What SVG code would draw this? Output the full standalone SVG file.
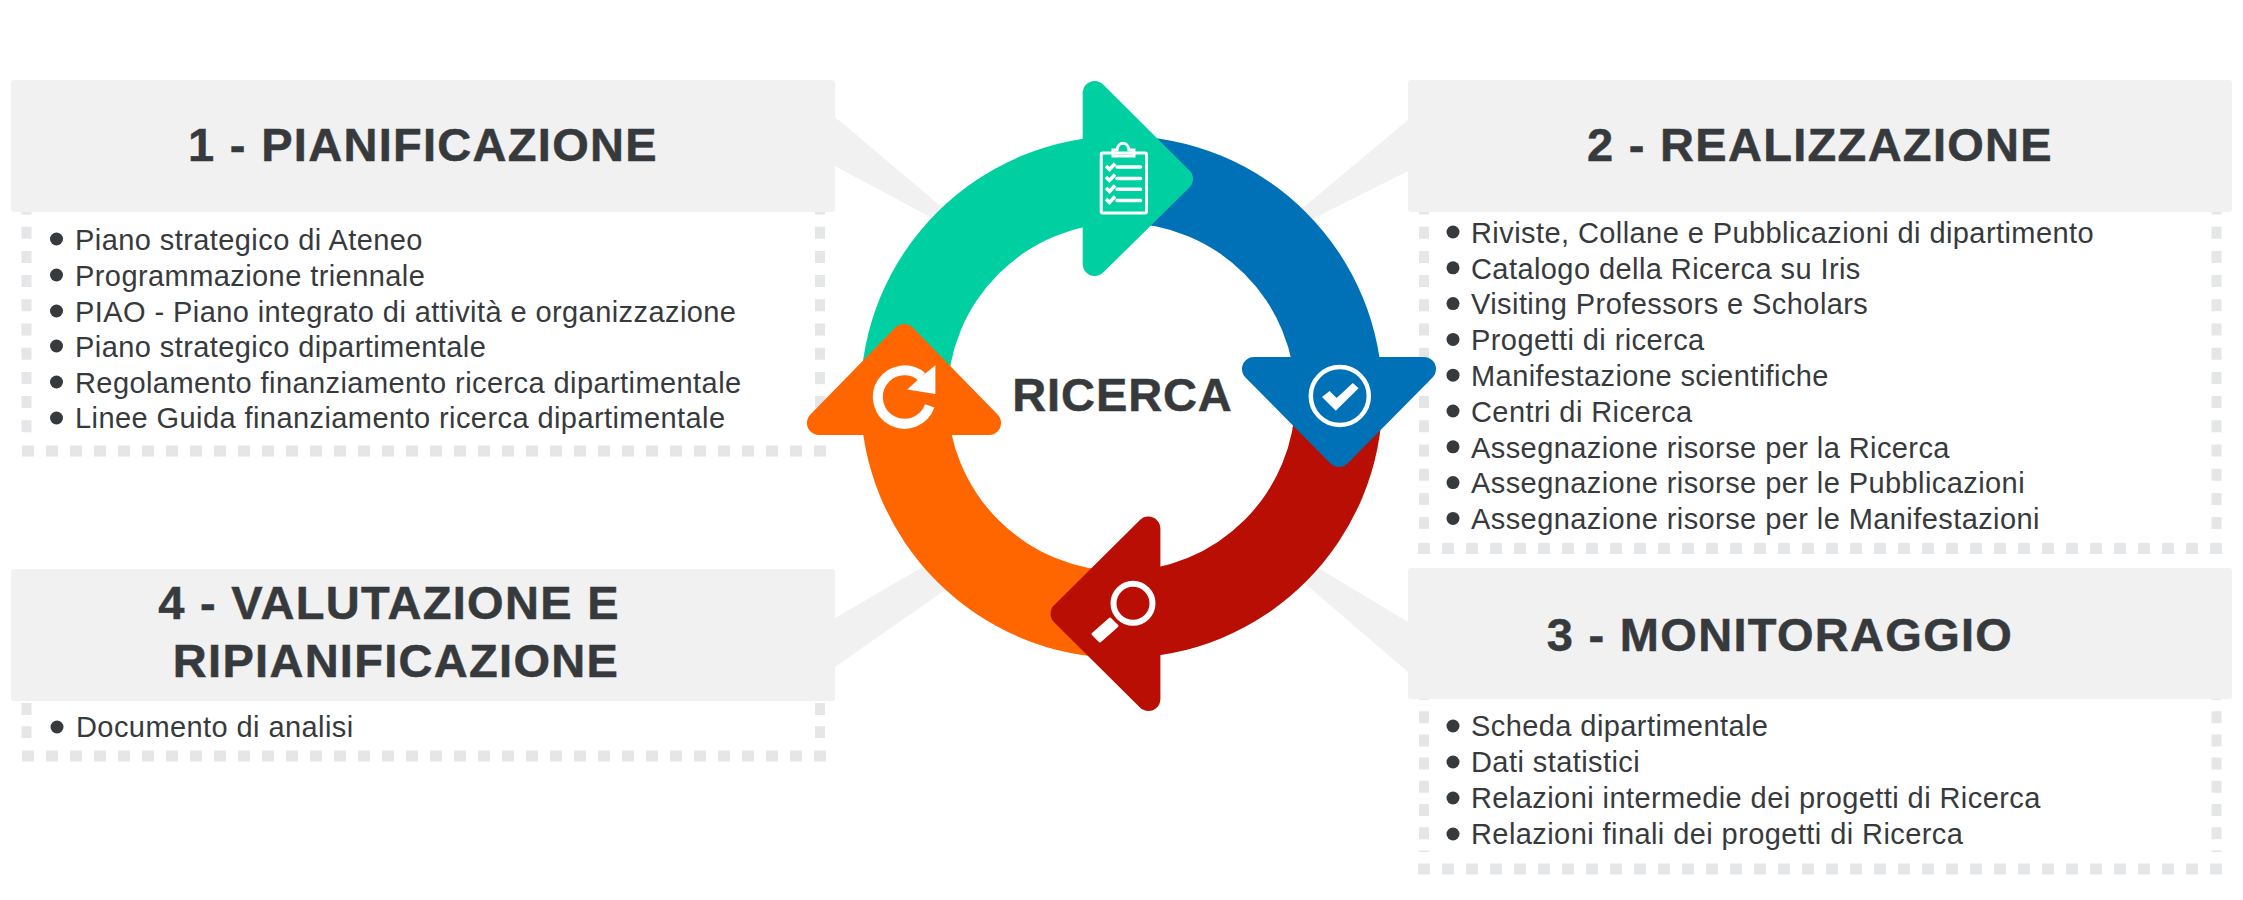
<svg xmlns="http://www.w3.org/2000/svg" width="2243" height="900" viewBox="0 0 2243 900">
<style>
text{font-family:"Liberation Sans",Arial,sans-serif;fill:#373a3d}
.t{font-size:47px;font-weight:700;text-anchor:middle;letter-spacing:1.3px;stroke:#373a3d;stroke-width:.5px}
.i{font-size:29px;letter-spacing:.42px}
.p{fill:#f1f1f1}
.d{fill:none;stroke:#e5e6e8;stroke-width:10;stroke-dasharray:12 12.2}
.h{fill:none;stroke:#e5e6e8;stroke-width:11;stroke-dasharray:12 12}
.b{fill:#373a3d}
.w{fill:#fff}
.o{fill:none;stroke:#fff}
</style>
<rect width="2243" height="900" fill="#fff"/>
<g id="connectors">
<polygon class="p" points="835,117 835,166 945,225 950,214"/>
<polygon class="p" points="1408,120 1408,171 1298,226 1293,216"/>
<polygon class="p" points="835,618 835,667 945,590 935,560"/>
<polygon class="p" points="1408,622 1408,672 1295,575 1305,560"/>
</g>
<g id="panel-1">
<path class="d" d="M26.5 202.5V434M820 202.5V434"/>
<path class="h" d="M22 451H826"/>
<rect class="p" x="11" y="80" width="824" height="132" rx="3"/>
<text class="t" x="423" y="160.7">1 - PIANIFICAZIONE</text>
<g class="b"><circle cx="56.5" cy="239" r="6.5"/><circle cx="56.5" cy="275" r="6.5"/><circle cx="56.5" cy="311" r="6.5"/><circle cx="56.5" cy="346" r="6.5"/><circle cx="56.5" cy="382" r="6.5"/><circle cx="56.5" cy="418" r="6.5"/></g>
<text class="i" x="75" y="250">Piano strategico di Ateneo</text>
<text class="i" x="75" y="286">Programmazione triennale</text>
<text class="i" x="75" y="321.7">PIAO - Piano integrato di attività e organizzazione</text>
<text class="i" x="75" y="356.7">Piano strategico dipartimentale</text>
<text class="i" x="75" y="392.7">Regolamento finanziamento ricerca dipartimentale</text>
<text class="i" x="75" y="428.3">Linee Guida finanziamento ricerca dipartimentale</text>
</g>
<g id="panel-2">
<path class="d" d="M1424 202.5V531M2216.5 202.5V531"/>
<path class="h" d="M1418 548.5H2222"/>
<rect class="p" x="1408" y="80" width="824" height="132" rx="3"/>
<text class="t" x="1820" y="161">2 - REALIZZAZIONE</text>
<g class="b"><circle cx="1453" cy="232" r="6.5"/><circle cx="1453" cy="267.8" r="6.5"/><circle cx="1453" cy="303.6" r="6.5"/><circle cx="1453" cy="339.4" r="6.5"/><circle cx="1453" cy="375.2" r="6.5"/><circle cx="1453" cy="411" r="6.5"/><circle cx="1453" cy="446.8" r="6.5"/><circle cx="1453" cy="482.6" r="6.5"/><circle cx="1453" cy="518.4" r="6.5"/></g>
<text class="i" x="1471" y="242.7">Riviste, Collane e Pubblicazioni di dipartimento</text>
<text class="i" x="1471" y="278.5">Catalogo della Ricerca su Iris</text>
<text class="i" x="1471" y="314.3">Visiting Professors e Scholars</text>
<text class="i" x="1471" y="350.1">Progetti di ricerca</text>
<text class="i" x="1471" y="385.9">Manifestazione scientifiche</text>
<text class="i" x="1471" y="421.7">Centri di Ricerca</text>
<text class="i" x="1471" y="457.5">Assegnazione risorse per la Ricerca</text>
<text class="i" x="1471" y="493.3">Assegnazione risorse per le Pubblicazioni</text>
<text class="i" x="1471" y="529.1">Assegnazione risorse per le Manifestazioni</text>
</g>
<g id="panel-3">
<path class="d" style="stroke-dasharray:12 11.2" d="M1424 688V852M2216.5 688V852"/>
<path class="h" d="M1418 869H2222"/>
<rect class="p" x="1408" y="568" width="824" height="131" rx="3"/>
<text class="t" x="1780" y="651">3 - MONITORAGGIO</text>
<g class="b"><circle cx="1453" cy="726" r="6.5"/><circle cx="1453" cy="762" r="6.5"/><circle cx="1453" cy="798" r="6.5"/><circle cx="1453" cy="834" r="6.5"/></g>
<text class="i" x="1471" y="736">Scheda dipartimentale</text>
<text class="i" x="1471" y="772">Dati statistici</text>
<text class="i" x="1471" y="808">Relazioni intermedie dei progetti di Ricerca</text>
<text class="i" x="1471" y="844">Relazioni finali dei progetti di Ricerca</text>
</g>
<g id="panel-4">
<path class="d" style="stroke-dasharray:12 11.2" d="M26.5 703V738M820 703V738"/>
<path class="h" d="M22 756H826"/>
<rect class="p" x="11" y="569" width="824" height="132" rx="3"/>
<text class="t" x="389" y="618.7">4 - VALUTAZIONE E</text>
<text class="t" x="396" y="676.7">RIPIANIFICAZIONE</text>
<circle class="b" cx="57" cy="727" r="6.5"/>
<text class="i" x="76" y="736.7">Documento di analisi</text>
</g>
<g id="ring">
<path fill="#00cfa2" d="M860.5 397A261 261 0 0 1 1121.5 136V223A174 174 0 0 0 947.5 397Z"/>
<path fill="#0071b6" d="M1121.5 136A261 261 0 0 1 1382.5 397H1295.5A174 174 0 0 0 1121.5 223Z"/>
<path fill="#b90e03" d="M1382.5 397A261 261 0 0 1 1121.5 658V571A174 174 0 0 0 1295.5 397Z"/>
<path fill="#ff6600" d="M1121.5 658A261 261 0 0 1 860.5 397H947.5A174 174 0 0 0 1121.5 571Z"/>
</g>
<g id="arrow-teal">
<polygon fill="#00cfa2" stroke="#00cfa2" stroke-width="24" stroke-linejoin="round" points="1094.7,93 1094.7,264 1181,179"/>
<rect class="o" x="1101.2" y="153" width="45.3" height="60" rx="1.5" stroke-width="3"/>
<path class="o" stroke-width="3" d="M1113 156V150H1117C1118 141 1128 141 1129 150H1134V156Z"/>
<path class="o" stroke-width="3.5" stroke-linecap="round" d="M1117 167H1140.5M1117 178.4H1140.5M1117 189.2H1140.5M1117 200.5H1140.5"/>
<path class="o" stroke-width="3.5" d="M1106 166L1109.5 169.5L1115 163.5M1106 177L1109.5 180.5L1115 174.5M1106 188L1109.5 191.5L1115 185.5M1106 199L1109.5 202.5L1115 196.5"/>
</g>
<g id="arrow-blue">
<polygon fill="#0071b6" stroke="#0071b6" stroke-width="24" stroke-linejoin="round" points="1254,369 1424,369 1339,455"/>
<circle class="o" cx="1339.8" cy="396" r="29" stroke-width="4.5"/>
<polygon class="w" points="1322,397 1329.6,391 1336.7,398 1352.8,383 1358.6,388.3 1335.8,410.8"/>
</g>
<g id="arrow-red">
<polygon fill="#b90e03" stroke="#b90e03" stroke-width="24" stroke-linejoin="round" points="1148.4,528.6 1148.4,699 1062.5,613.7"/>
<circle class="o" cx="1133" cy="603.3" r="19.5" stroke-width="6"/>
<polygon class="w" stroke="#fff" stroke-width="3" stroke-linejoin="round" points="1110,619 1117,626 1100,641 1093,634"/>
</g>
<g id="arrow-orange">
<polygon fill="#ff6600" stroke="#ff6600" stroke-width="24" stroke-linejoin="round" points="904,336 819,423 989,423"/>
<path class="o" stroke-width="10" d="M921.8 376.7A26.7 26.7 0 1 0 929.7 405.9"/>
<polygon class="w" points="935.4,365.3 935.4,394 907.2,389.6 921,377"/>
</g>
<g id="center">
<text x="1122.5" y="411" font-size="47" font-weight="700" text-anchor="middle" stroke="#373a3d" stroke-width=".5" letter-spacing=".9">RICERCA</text>
</g>
</svg>
